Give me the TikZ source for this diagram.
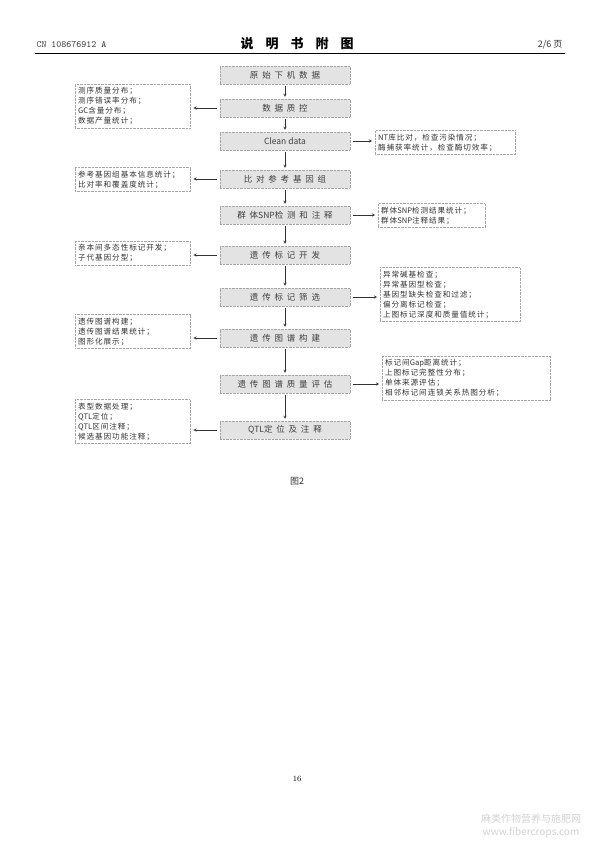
\documentclass[tikz,border=0pt]{standalone}
\usepackage{fontspec}
\newfontfamily\cjk{Noto Sans CJK SC}
\newfontfamily\cjkmain[LetterSpace=45]{Noto Sans CJK SC}
\newfontfamily\cjknote[LetterSpace=12]{Noto Sans CJK SC}
\newcommand\latseg[1]{{\cjk #1}}
\begin{document}
\begin{tikzpicture}[x=1pt,y=-1pt,>=stealth,
  mainbox/.style={draw=gray!70,densely dotted,fill=gray!22,minimum width=130pt,minimum height=18pt,inner sep=0pt,font=\cjkmain\fontsize{8.5}{9}\selectfont,text=black!75},
  leftbox/.style={draw=gray!70,densely dotted,anchor=west,align=left,text width=109pt,inner sep=3pt,font=\cjknote\fontsize{7.6}{10}\selectfont,text=black!80},
  rightbox/.style={leftbox,text width=#1},
  link/.style={->,black!80,thin}]
\useasboundingbox (0,0) rectangle (595,842);
% header
\node[anchor=west,font=\ttfamily\fontsize{9.5}{10}\selectfont,text=black!80] (hcn) at (33,45) {CN 108676912 A};
\node[font=\cjk\bfseries\fontsize{13}{14}\selectfont] (htitle) at (297,44) {说\hspace{12pt}明\hspace{12pt}书\hspace{12pt}附\hspace{12pt}图};
\node[anchor=east,font=\cjk\fontsize{9}{10}\selectfont,text=black!80] (hpage) at (566,45) {2/6 页};
\draw[line width=0.8pt] (35,53) -- (565,53);
% main flow
\node[mainbox] (m1) at (285,75) {原始下机数据};
\node[mainbox] (m2) at (285,108) {数据质控};
\node[mainbox,font=\cjk\fontsize{8.5}{9}\selectfont] (m3) at (285,141) {Clean data};
\node[mainbox] (m4) at (285,179) {比对参考基因组};
\node[mainbox] (m5) at (285,215) {群体\latseg{SNP}检测和注释};
\node[mainbox] (m6) at (285,255) {遗传标记开发};
\node[mainbox] (m7) at (285,297) {遗传标记筛选};
\node[mainbox] (m8) at (285,338) {遗传图谱构建};
\node[mainbox] (m9) at (285,384) {遗传图谱质量评估};
\node[mainbox] (m10) at (285,430) {\latseg{QTL}定位及注释};
% side notes
\node[leftbox] (l1) at (75,106) {测序质量分布；\\测序错误率分布；\\\latseg{GC}含量分布；\\数据产量统计；};
\node[leftbox] (l2) at (75,179.5) {参考基因组基本信息统计；\\比对率和覆盖度统计；};
\node[leftbox] (l3) at (75,253) {亲本间多态性标记开发；\\子代基因分型；};
\node[leftbox] (l4) at (75,331.5) {遗传图谱构建；\\遗传图谱结果统计；\\图形化展示；};
\node[leftbox] (l5) at (75,421.5) {表型数据处理；\\\latseg{QTL}定位；\\\latseg{QTL}区间注释；\\候选基因功能注释；};
\node[rightbox=134pt] (r1) at (375,142.5) {\latseg{NT}库比对，检查污染情况；\\酶捕获率统计，检查酶切效率；};
\node[rightbox=101pt] (r2) at (378,215.5) {群体\latseg{SNP}检测结果统计；\\群体\latseg{SNP}注释结果；};
\node[rightbox=134pt] (r3) at (380,294.5) {异常碱基检查；\\异常基因型检查；\\基因型缺失检查和过滤；\\偏分离标记检查；\\上图标记深度和质量值统计；};
\node[rightbox=162pt] (r4) at (382,378) {标记间\latseg{Gap}距离统计；\\上图标记完整性分布；\\单体来源评估；\\相邻标记间连锁关系热图分析；};
% connectors
\foreach \u/\v in {m1/m2,m2/m3,m3/m4,m4/m5,m5/m6,m6/m7,m7/m8,m8/m9,m9/m10}
  \draw[link,shorten <=2pt,shorten >=2pt] (\u) -- (\v);
\foreach \u/\v in {m2/l1,m4/l2,m6/l3,m8/l4,m10/l5}
  \draw[link,shorten <=3pt,shorten >=3pt] (\u.west) -- (\u.west -| \v.east);
\foreach \u/\v in {m3/r1,m5/r2,m7/r3,m9/r4}
  \draw[link,shorten <=3pt,shorten >=3pt] (\u.east) -- (\u.east -| \v.west);
% caption and footer
\node[font=\cjk\fontsize{9}{10}\selectfont,text=black!80] (cap) at (297,481) {图2};
\node[font=\fontsize{8}{9}\selectfont] (pnum) at (297,779) {16};
\node[font=\cjk\fontsize{10}{13}\selectfont,text=gray!35,align=center] (wm) at (531,826) {麻类作物营养与施肥网\\www.fibercrops.com};
\end{tikzpicture}
\end{document}
